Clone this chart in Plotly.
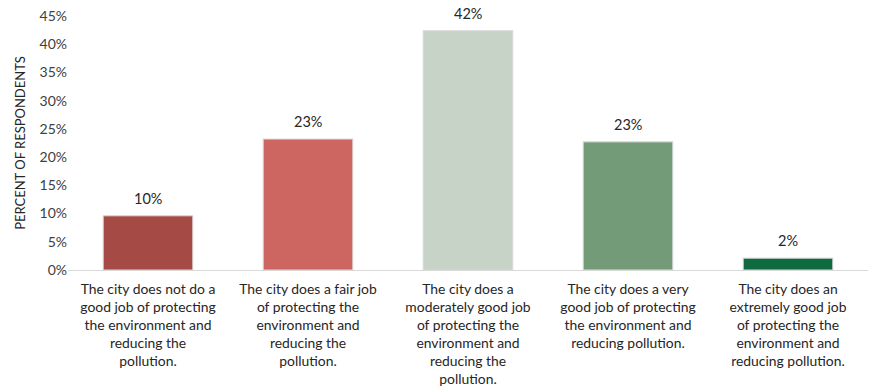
import plotly.graph_objects as go

categories = [
    "The city does not do a<br>good job of protecting<br>the environment and<br>reducing the<br>pollution.",
    "The city does a fair job<br>of protecting the<br>environment and<br>reducing the<br>pollution.",
    "The city does a<br>moderately good job<br>of protecting the<br>environment and<br>reducing the<br>pollution.",
    "The city does a very<br>good job of protecting<br>the environment and<br>reducing pollution.",
    "The city does an<br>extremely good job<br>of protecting the<br>environment and<br>reducing pollution.",
]
percent = [9.6, 23.2, 42.4, 22.7, 2.1]
bar_colors = ["#A54A45", "#CD6660", "#C8D3C8", "#739B78", "#0F6B3F"]
tick_values = [0, 5, 10, 15, 20, 25, 30, 35, 40, 45]
tick_labels = [f"{v}%" for v in tick_values]

FONT = "Lato, 'Open Sans', sans-serif"

fig = go.Figure(
    go.Bar(
        x=categories,
        y=percent,
        marker=dict(color=bar_colors, line=dict(color="#D9D9D9", width=1)),
        width=0.56,
    )
)

# value labels sitting a little above each bar
for cat, val in zip(categories, percent):
    fig.add_annotation(
        x=cat,
        y=val,
        text=f"{val:.0f}%",
        showarrow=False,
        yanchor="bottom",
        yshift=7,
        font=dict(family=FONT, size=14.5, color="#262626"),
    )

fig.update_layout(
    width=877,
    height=392,
    margin=dict(l=68, r=9, t=16, b=122),
    paper_bgcolor="white",
    plot_bgcolor="white",
    showlegend=False,
    font=dict(family=FONT, size=13, color="#262626"),
)

fig.update_xaxes(
    automargin=False,
    showline=True,
    linecolor="#D9D9D9",
    linewidth=1,
    showgrid=False,
    ticks="",
    ticklabelstandoff=6,
    tickfont=dict(family=FONT, size=13.9, color="#262626"),
    tickangle=0,
)

fig.update_yaxes(
    automargin=False,
    range=[0, 45],
    tickvals=tick_values,
    ticktext=tick_labels,
    showgrid=False,
    zeroline=False,
    showline=False,
    ticks="",
    tickfont=dict(family=FONT, size=14, color="#404040"),
    title=dict(
        text="PERCENT OF RESPONDENTS",
        font=dict(family=FONT, size=13, color="#262626"),
        standoff=10,
    ),
)

fig.write_html("out.html")
